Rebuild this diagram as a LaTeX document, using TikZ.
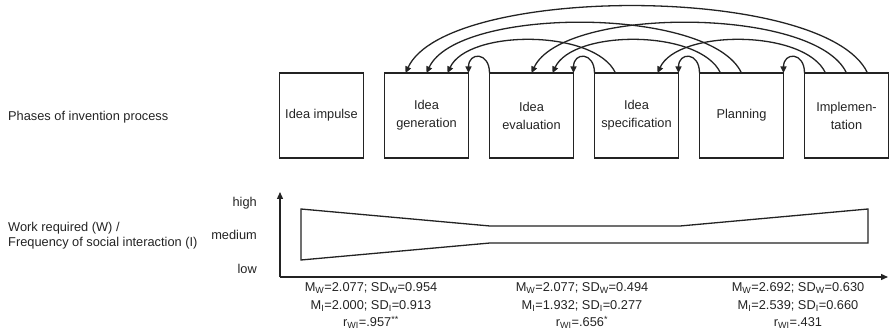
\documentclass[tikz,border=0pt]{standalone}
\usepackage{fontspec}
\setmainfont{Liberation Sans}
\usetikzlibrary{arrows.meta,positioning}
\definecolor{ink}{RGB}{35,35,35}
\tikzset{
  phase/.style={rectangle,draw=ink,line width=1.3pt,outer sep=0pt,
    minimum width=84pt,minimum height=85pt,align=center,inner sep=2pt,
    text=ink,font=\fontsize{12.8}{18}\selectfont},
  lab/.style={inner sep=0pt,text=ink,font=\fontsize{12.8}{15}\selectfont},
  stats/.style={lab,align=center,font=\fontsize{12.8}{17.5}\selectfont},
  % feedback arcs between the phases
  back/.style={-{Triangle[length=6.5pt,width=6pt]},line width=1.3pt,draw=ink},
  hop/.style={back,out=90,in=90,looseness=2.6},
  span/.style={back,out=115,in=65,looseness=#1},
  axis/.style={-{Triangle[length=7pt,width=6pt]},line width=1.3pt,draw=ink}
}
\begin{document}
\begin{tikzpicture}[x=1pt,y=1pt,node distance=21pt]
  \useasboundingbox (0,0) rectangle (889,335);
  \node[lab,anchor=west] (phases) at (8,218) {Phases of invention process};
  \node[phase] (imp) at (321.5,219.5) {Idea impulse};
  \node[phase,right=of imp] (gen) {Idea\\generation};
  \node[phase,right=of gen] (eval) {Idea\\evaluation};
  \node[phase,right=of eval] (spec) {Idea\\specification};
  \node[phase,right=of spec] (plan) {Planning};
  \node[phase,right=of plan] (impl) {Implemen-\\tation};
  % one step back
  \draw[hop] (eval.north west) to (gen.north east);
  \draw[hop] (spec.north west) to (eval.north east);
  \draw[hop] (plan.north west) to (spec.north east);
  \draw[hop] (impl.north west) to (plan.north east);
  % two steps back
  \draw[span=0.74] ([xshift=21pt]spec.north west) to ([xshift=-21pt]gen.north east);
  \draw[span=0.74] ([xshift=21pt]plan.north west) to ([xshift=-21pt]eval.north east);
  \draw[span=0.74] ([xshift=21pt]impl.north west) to ([xshift=-21pt]spec.north east);
  % three and four steps back
  \draw[span=0.6] ([xshift=42pt]plan.north west) to ([xshift=-42pt]gen.north east);
  \draw[span=0.6] ([xshift=42pt]impl.north west) to ([xshift=-42pt]eval.north east);
  \draw[span=0.545] ([xshift=63pt]impl.north west) to ([xshift=-63pt]gen.north east);

  % work required / social interaction over the phases
  \node[lab,anchor=west,align=left] (work) at (8,99.5) {Work required (W) /\\Frequency of social interaction (I)};
  \node[lab,anchor=east] (high) at (257,132) {high};
  \node[lab,anchor=east] (medium) at (257,100) {medium};
  \node[lab,anchor=east] (low) at (257,66) {low};
  \coordinate (o) at (280,58);
  \coordinate (ytop) at (280,143);
  \coordinate (xend) at (888,58);
  \draw[axis] (o) -- (ytop);
  \draw[axis] (o) -- (xend);
  \draw[line width=1.3pt,draw=ink] (301,126) -- (490,109) -- (680,109) -- (868,126)
    -- (868,92) -- (490,92) -- (301,75) -- cycle;
  \node[stats] (sfirst) at (371,29) {M\textsubscript{W}=2.077; SD\textsubscript{W}=0.954\\
    M\textsubscript{I}=2.000; SD\textsubscript{I}=0.913\\r\textsubscript{WI}=.957\textsuperscript{**}};
  \node[stats] (ssecond) at (582,29) {M\textsubscript{W}=2.077; SD\textsubscript{W}=0.494\\
    M\textsubscript{I}=1.932; SD\textsubscript{I}=0.277\\r\textsubscript{WI}=.656\textsuperscript{*}};
  \node[stats] (sthird) at (798,29) {M\textsubscript{W}=2.692; SD\textsubscript{W}=0.630\\
    M\textsubscript{I}=2.539; SD\textsubscript{I}=0.660\\r\textsubscript{WI}=.431};
\end{tikzpicture}
\end{document}
